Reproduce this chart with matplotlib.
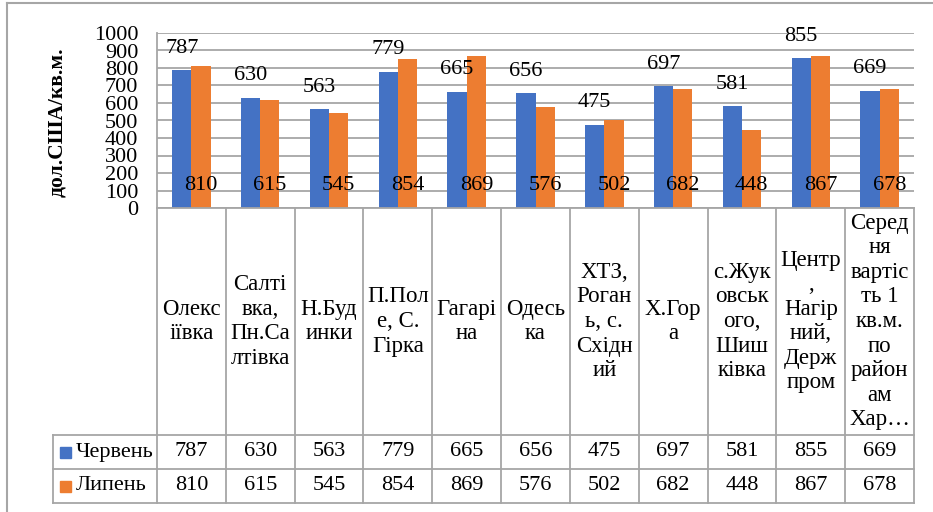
import numpy as np
import matplotlib.pyplot as plt
from matplotlib.transforms import blended_transform_factory
from matplotlib.lines import Line2D
from matplotlib.patches import Rectangle

plt.rcParams['font.family'] = ['Liberation Serif', 'DejaVu Serif']

# District names, wrapped the way they appear in the table cells
districts = [
    "Олекс\nіївка",
    "Салті\nвка,\nПн.Са\nлтівка",
    "Н.Буд\nинки",
    "П.Пол\nе, С.\nГірка",
    "Гагарі\nна",
    "Одесь\nка",
    "ХТЗ,\nРоган\nь, с.\nСхідн\nий",
    "Х.Гор\nа",
    "с.Жук\nовськ\nого,\nШиш\nківка",
    "Центр\n,\nНагір\nний,\nДерж\nпром",
    "Серед\nня\nвартіс\nть 1\nкв.м.\nпо\nрайон\nам\nХар…",
]
june = [787, 630, 563, 779, 665, 656, 475, 697, 581, 855, 669]
july = [810, 615, 545, 854, 869, 576, 502, 682, 448, 867, 678]
series_names = ["Червень", "Липень"]
y_ticks = list(range(0, 1001, 100))

blue = '#4472C4'
orange = '#ED7D31'
grid_c = '#A6A6A6'
FS = 16
FS_CAT = 16.5

W, H = 933, 512
fig = plt.figure(figsize=(W / 100, H / 100), dpi=100)


def fx(px):
    return px / W


def fy(py):
    return 1 - py / H


# plot area
ax = fig.add_axes([fx(157), fy(208), fx(914) - fx(157), fy(33) - fy(208)])
x = np.arange(len(districts))
bw = 0.28
ax.bar(x - bw / 2, june, bw, color=blue, zorder=3)
ax.bar(x + bw / 2, july, bw, color=orange, zorder=3)

# value labels: June above the bar, July at the base
for xi, v in zip(x, june):
    ax.annotate(str(v), (xi - bw / 2, v), xytext=(0, 22), textcoords='offset pixels',
                ha='center', va='center', fontsize=FS, zorder=4)
for xi, v in zip(x, july):
    ax.annotate(str(v), (xi + bw / 2, 0), xytext=(0, 23), textcoords='offset pixels',
                ha='center', va='center', fontsize=FS, zorder=4)

ax.set_xlim(-0.5, len(districts) - 0.5)
ax.set_ylim(0, 1000)
ax.set_yticks(y_ticks)
ax.set_yticklabels([str(t) for t in y_ticks], fontsize=FS)
ax.tick_params(axis='y', length=0, pad=13.5)
ax.set_xticks([])
ax.grid(axis='y', color=grid_c, linewidth=1.3, zorder=0)
for s in ['top', 'right', 'bottom']:
    ax.spines[s].set_visible(False)
ax.spines['left'].set_color(grid_c)
ax.spines['left'].set_linewidth(1.3)

fig.text(fx(57), fy(122), "дол.США/кв.м.", rotation=90, fontsize=15.5, fontweight='bold',
         ha='center', va='center')

# data table under the chart
tr = blended_transform_factory(ax.transData, fig.transFigure)
lw = 1.3
y_top, y_r1, y_r2, y_bot = fy(208), fy(435), fy(469), fy(503)
for k in range(len(districts) + 1):
    fig.add_artist(Line2D([k - 0.5, k - 0.5], [y_top, y_bot], transform=tr, color=grid_c, lw=lw))
fig.add_artist(Line2D([fx(157), fx(914)], [y_top, y_top], color=grid_c, lw=lw))
for yy in [y_r1, y_r2, y_bot]:
    fig.add_artist(Line2D([fx(53), fx(914)], [yy, yy], color=grid_c, lw=lw))
fig.add_artist(Line2D([fx(53), fx(53)], [y_r1, y_bot], color=grid_c, lw=lw))

for xi, name in zip(x, districts):
    fig.text(xi, (y_top + y_r1) / 2, name, transform=tr, ha='center', va='center',
             fontsize=FS_CAT, linespacing=1.22, multialignment='center')

rows = [(june, blue, (y_r1 + y_r2) / 2), (july, orange, (y_r2 + y_bot) / 2)]
for (vals, col, yc), label in zip(rows, series_names):
    fig.add_artist(Rectangle((fx(60), yc - 5.5 / H), 11 / W, 11 / H, color=col,
                             transform=fig.transFigure))
    fig.text(fx(76), yc, label, ha='left', va='center', fontsize=FS)
    for xi, v in zip(x, vals):
        fig.text(xi, yc, str(v), transform=tr, ha='center', va='center', fontsize=FS)

# chart frame
fig.add_artist(Line2D([fx(7), 1], [fy(3), fy(3)], color=grid_c, lw=1.5))
fig.add_artist(Line2D([fx(7), fx(7)], [fy(3), 0], color=grid_c, lw=1.5))

fig.savefig('out.png', dpi=100)
